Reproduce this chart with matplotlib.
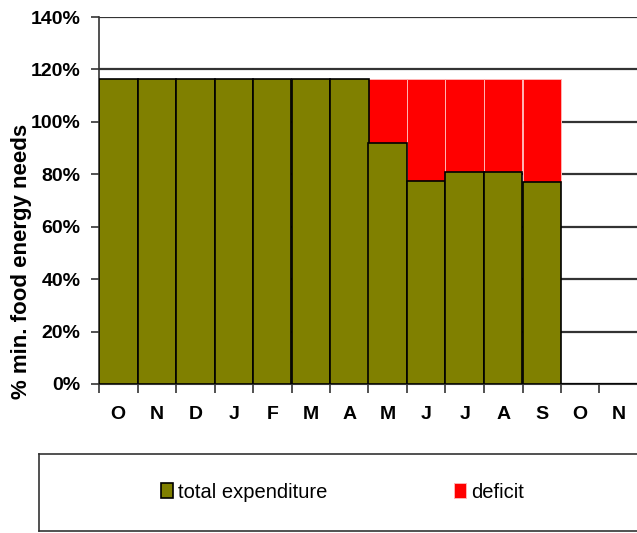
import numpy as np
import matplotlib.pyplot as plt
from matplotlib.ticker import FuncFormatter

plt.rcParams['font.family'] = ['Liberation Sans', 'DejaVu Sans']

months = ['O', 'N', 'D', 'J', 'F', 'M', 'A', 'M', 'J', 'J', 'A', 'S', 'O', 'N']
total_expenditure = [116.5, 116.5, 116.5, 116.5, 116.5, 116.5, 116.5,
                     91.8, 77.5, 81.0, 81.0, 77.2, 0, 0]
deficit = [0, 0, 0, 0, 0, 0, 0, 24.7, 39.0, 35.5, 35.5, 39.3, 0, 0]
y_ticks = [0, 20, 40, 60, 80, 100, 120, 140]

W, H = 637, 533
fig = plt.figure(figsize=(W / 100, H / 100), dpi=100)
ax = fig.add_axes([99 / W, 1 - 384 / H, 539 / W, (384 - 17) / H])

x = np.arange(len(months))
b1 = ax.bar(x, total_expenditure, width=1.0, color='#808000',
            edgecolor='black', linewidth=1.2, zorder=3)
b2 = ax.bar(x, deficit, bottom=total_expenditure, width=1.0, color='#ff0000',
            edgecolor='#ffb4b4', linewidth=0.7, zorder=2.9)

ax.set_xlim(-0.5, len(months) - 0.5)
ax.set_ylim(0, 140)
ax.set_yticks(y_ticks)
ax.yaxis.set_major_formatter(FuncFormatter(lambda v, p: f'{v:.0f}%'))
ax.yaxis.grid(True, color='#333333', linewidth=1.6, zorder=0)
ax.set_axisbelow(True)

# ticks at bar boundaries, labels at bar centers
ax.set_xticks(np.arange(len(months) + 1) - 0.5)
ax.set_xticklabels([])
ax.set_xticks(x, minor=True)
ax.set_xticklabels(months, minor=True, fontsize=14, fontweight='bold')
ax.tick_params(axis='x', which='major', direction='out', length=6.5,
               width=1.2, color='#333333')
ax.tick_params(axis='x', which='minor', length=0, pad=16)
ax.tick_params(axis='y', direction='out', length=5.5, width=1.2,
               color='#333333', pad=8, labelsize=14)
for lab in ax.get_yticklabels():
    lab.set_fontweight('bold')

ax.spines['top'].set_visible(False)
ax.spines['right'].set_visible(False)
ax.spines['left'].set_color('#333333')
ax.spines['bottom'].set_color('#333333')
ax.spines['left'].set_linewidth(1.2)
ax.spines['bottom'].set_linewidth(1.5)

fig.text(22 / W, 1 - 261 / H, '% min. food energy needs', rotation=90,
         ha='center', va='center', fontsize=16, fontweight='bold')

# legend box
lax = fig.add_axes([39 / W, 1 - 531 / H, 1 - 39 / W + 0.01, (531 - 454) / H])
lax.set_xticks([])
lax.set_yticks([])
for s in lax.spines.values():
    s.set_color('#333333')
    s.set_linewidth(1.2)
fig.legend([b1, b2], ['total expenditure', 'deficit'], loc='center left',
           bbox_to_anchor=(161 / W, 1 - 492 / H), ncol=2, frameon=False,
           fontsize=14.5, handlelength=0.6, handleheight=0.8,
           handletextpad=0.25, columnspacing=6.3, borderpad=0,
           borderaxespad=0)

fig.savefig('out.png', dpi=100)
